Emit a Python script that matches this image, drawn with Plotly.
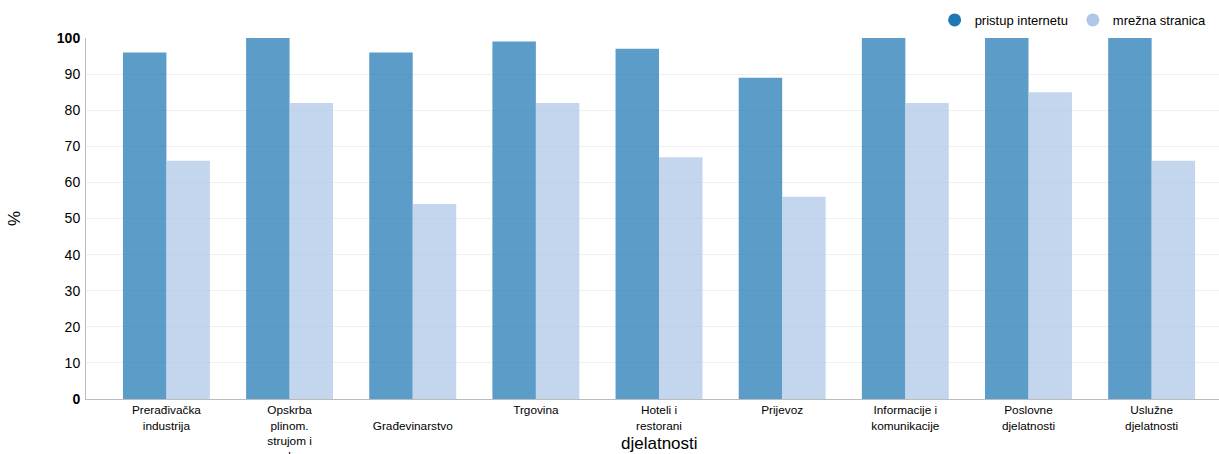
import plotly.graph_objects as go

categories = ["Prerađivačka<br>industrija", "Opskrba<br>plinom.<br>strujom i<br>vodom",
              " <br>Građevinarstvo", "Trgovina", "Hoteli i<br>restorani", "Prijevoz",
              "Informacije i<br>komunikacije", "Poslovne<br>djelatnosti", "Uslužne<br>djelatnosti"]
pristup_internetu = [96, 100, 96, 99, 97, 89, 100, 100, 100]
mrezna_stranica = [66, 82, 54, 82, 67, 56, 82, 85, 66]
y_ticks = [0, 10, 20, 30, 40, 50, 60, 70, 80, 90, 100]
y_ticktext = ["<b>0</b>", "10", "20", "30", "40", "50", "60", "70", "80", "90", "<b>100</b>"]

x = list(range(len(categories)))
c1 = "#1f77b4"
c2 = "#aec7e8"

fig = go.Figure()
fig.add_bar(x=x, y=pristup_internetu, name="pristup internetu", marker=dict(color=c1, opacity=0.73, line=dict(width=0)), showlegend=False)
fig.add_bar(x=x, y=mrezna_stranica, name="mrežna stranica", marker=dict(color=c2, opacity=0.73, line=dict(width=0)), showlegend=False)
fig.add_scatter(x=[None], y=[None], mode="markers", name="pristup internetu", marker=dict(color=c1, size=13, symbol="circle"))
fig.add_scatter(x=[None], y=[None], mode="markers", name="mrežna stranica", marker=dict(color=c2, size=13, symbol="circle"))

fig.update_layout(
    width=1219, height=454,
    margin=dict(l=86, r=0, t=38, b=55),
    plot_bgcolor="white", paper_bgcolor="white",
    barmode="group", bargap=0.294, bargroupgap=0,
    font=dict(family="Arial, Liberation Sans, sans-serif", color="#000"),
    legend=dict(orientation="h", xanchor="right", x=0.9935, yanchor="middle", y=1.05,
                font=dict(size=13), itemwidth=30, tracegroupgap=0, bgcolor="rgba(0,0,0,0)"),
    xaxis=dict(tickmode="array", tickvals=x, ticktext=categories, range=[-0.653, 8.547],
               showline=True, linecolor="#bbbbbb", linewidth=1, showgrid=False,
               ticks="", tickfont=dict(size=11.8), automargin=False, zeroline=False),
    yaxis=dict(tickmode="array", tickvals=y_ticks, ticktext=y_ticktext, range=[0, 100],
               showline=True, linecolor="#bbbbbb", linewidth=1, showgrid=True, gridcolor="#f0f0f0",
               ticks="", tickfont=dict(size=14), automargin=False, zeroline=False, ticklabelstandoff=2),
    showlegend=True,
)
fig.add_annotation(text="djelatnosti", xref="paper", yref="paper", x=0.506, y=-0.122,
                   xanchor="center", yanchor="middle", showarrow=False, font=dict(size=17))
fig.add_annotation(text="%", xref="paper", x=-0.063, xanchor="center", yref="paper", y=0.5,
                   yanchor="middle", textangle=-90, showarrow=False, font=dict(size=17))

fig.write_html("out.html", config={"displayModeBar": False},
               post_script="document.body.style.margin='0';document.body.style.overflow='hidden';")
